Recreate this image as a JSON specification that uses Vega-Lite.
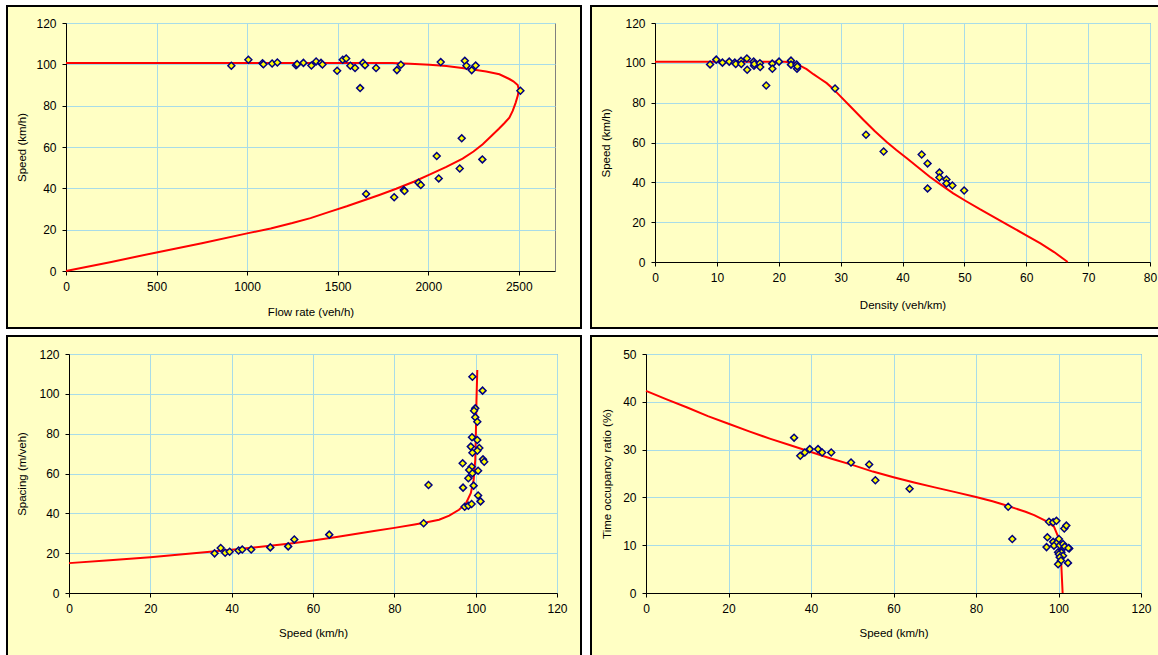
{
"$schema": "https://vega.github.io/schema/vega-lite/v6.json",
"background": "#FFFFC4",
"padding": 0,
"data": {"values": [{}]},
"datasets": {
"c1": [{"i":0,"x":0,"y":0},{"i":1,"x":250,"y":4.4},{"i":2,"x":500,"y":9.0},{"i":3,"x":750,"y":13.4},{"i":4,"x":1000,"y":18.2},{"i":5,"x":1130,"y":20.6},{"i":6,"x":1250,"y":23.2},{"i":7,"x":1350,"y":25.6},{"i":8,"x":1454,"y":28.6},{"i":9,"x":1550,"y":31.3},{"i":10,"x":1638,"y":34.0},{"i":11,"x":1730,"y":36.8},{"i":12,"x":1823,"y":39.8},{"i":13,"x":1920,"y":43.2},{"i":14,"x":2007,"y":46.6},{"i":15,"x":2100,"y":50.4},{"i":16,"x":2190,"y":54.4},{"i":17,"x":2250,"y":57.8},{"i":18,"x":2301,"y":61.3},{"i":19,"x":2350,"y":65.4},{"i":20,"x":2390,"y":68.8},{"i":21,"x":2420,"y":71.5},{"i":22,"x":2448,"y":74.2},{"i":23,"x":2467,"y":77.6},{"i":24,"x":2483,"y":81.5},{"i":25,"x":2495,"y":85},{"i":26,"x":2500,"y":88},{"i":27,"x":2494,"y":90},{"i":28,"x":2470,"y":91.8},{"i":29,"x":2448,"y":92.9},{"i":30,"x":2393,"y":95.2},{"i":31,"x":2320,"y":96.5},{"i":32,"x":2209,"y":98.0},{"i":33,"x":2100,"y":99.2},{"i":34,"x":2007,"y":99.8},{"i":35,"x":1900,"y":100.3},{"i":36,"x":1800,"y":100.6},{"i":37,"x":0,"y":100.7}],
"p1": [{"x":913,"y":99.3},{"x":1007,"y":102.2},{"x":1085,"y":100.5},{"x":1090,"y":100.0},{"x":1138,"y":100.4},{"x":1167,"y":100.9},{"x":1270,"y":99.6},{"x":1276,"y":100.1},{"x":1311,"y":100.7},{"x":1355,"y":99.4},{"x":1381,"y":101.4},{"x":1408,"y":100.7},{"x":1416,"y":99.9},{"x":1497,"y":96.9},{"x":1528,"y":102.2},{"x":1547,"y":102.8},{"x":1570,"y":99.3},{"x":1596,"y":98.2},{"x":1624,"y":88.5},{"x":1640,"y":100.7},{"x":1651,"y":99.6},{"x":1712,"y":98.2},{"x":1827,"y":97.2},{"x":1849,"y":99.8},{"x":2069,"y":101.1},{"x":2202,"y":101.7},{"x":2211,"y":99.3},{"x":2240,"y":97.2},{"x":2262,"y":99.4},{"x":2509,"y":87.2},{"x":2185,"y":64.2},{"x":2047,"y":55.6},{"x":2299,"y":54.0},{"x":2174,"y":49.6},{"x":2058,"y":44.8},{"x":1946,"y":42.7},{"x":1959,"y":41.6},{"x":1865,"y":39.2},{"x":1869,"y":38.7},{"x":1657,"y":37.3},{"x":1812,"y":35.7}],
"c2": [{"i":0,"x":0,"y":100.6},{"i":1,"x":21,"y":100.5},{"i":2,"x":22.5,"y":99.9},{"i":3,"x":23.5,"y":98.5},{"i":4,"x":24.5,"y":96.8},{"i":5,"x":25.6,"y":94.3},{"i":6,"x":26.7,"y":92},{"i":7,"x":27.75,"y":89.8},{"i":8,"x":28.8,"y":86.9},{"i":9,"x":29.9,"y":83.4},{"i":10,"x":31.5,"y":78.3},{"i":11,"x":33.7,"y":71.3},{"i":12,"x":35.5,"y":65.8},{"i":13,"x":37.4,"y":60.4},{"i":14,"x":39,"y":56.2},{"i":15,"x":40.7,"y":52.1},{"i":16,"x":42.5,"y":47.6},{"i":17,"x":44.4,"y":42.8},{"i":18,"x":46.3,"y":38.6},{"i":19,"x":48.2,"y":34.5},{"i":20,"x":50.3,"y":30.5},{"i":21,"x":52.5,"y":26.5},{"i":22,"x":55,"y":22.2},{"i":23,"x":57.5,"y":17.8},{"i":24,"x":60,"y":13.4},{"i":25,"x":62.3,"y":9.3},{"i":26,"x":64.5,"y":5},{"i":27,"x":66.7,"y":0}],
"p2": [{"x":8.9,"y":99.2},{"x":9.9,"y":101.6},{"x":10.9,"y":100.1},{"x":12.0,"y":100.6},{"x":12.9,"y":100.1},{"x":13.05,"y":99.4},{"x":13.9,"y":101.0},{"x":13.95,"y":99.4},{"x":14.85,"y":102.2},{"x":14.9,"y":96.5},{"x":15.95,"y":100.6},{"x":16.0,"y":98.5},{"x":16.05,"y":99.4},{"x":16.95,"y":99.8},{"x":17.0,"y":97.9},{"x":17.97,"y":88.6},{"x":18.95,"y":99.6},{"x":18.97,"y":97.0},{"x":20.05,"y":100.6},{"x":21.98,"y":101.1},{"x":21.98,"y":99.1},{"x":22.9,"y":99.1},{"x":22.95,"y":97.0},{"x":23.0,"y":98.2},{"x":29.1,"y":87.1},{"x":34.1,"y":63.9},{"x":36.95,"y":55.5},{"x":43.1,"y":53.95},{"x":44.05,"y":49.5},{"x":44.05,"y":36.95},{"x":45.97,"y":44.9},{"x":45.97,"y":42.4},{"x":47.1,"y":41.4},{"x":47.1,"y":39.4},{"x":48.06,"y":38.4},{"x":49.96,"y":35.9}],
"c3": [{"i":0,"x":0,"y":15},{"i":1,"x":10,"y":16.4},{"i":2,"x":20,"y":18.0},{"i":3,"x":30,"y":19.8},{"i":4,"x":40,"y":21.7},{"i":5,"x":50,"y":23.8},{"i":6,"x":55,"y":25.0},{"i":7,"x":60,"y":26.4},{"i":8,"x":65,"y":27.9},{"i":9,"x":70,"y":29.5},{"i":10,"x":75,"y":31.1},{"i":11,"x":80,"y":32.7},{"i":12,"x":85,"y":34.4},{"i":13,"x":88,"y":35.5},{"i":14,"x":91,"y":36.8},{"i":15,"x":93.5,"y":38.8},{"i":16,"x":95.9,"y":41.8},{"i":17,"x":97.6,"y":45},{"i":18,"x":98.8,"y":50.1},{"i":19,"x":99.5,"y":56.7},{"i":20,"x":99.9,"y":66.8},{"i":21,"x":100.05,"y":80.2},{"i":22,"x":100.2,"y":96.9},{"i":23,"x":100.4,"y":112}],
"p3": [{"x":35.8,"y":19.9},{"x":37.3,"y":22.6},{"x":38.4,"y":20.2},{"x":39.5,"y":20.7},{"x":41.7,"y":21.3},{"x":42.6,"y":21.8},{"x":44.8,"y":21.8},{"x":49.5,"y":22.9},{"x":53.9,"y":23.4},{"x":55.4,"y":26.9},{"x":64.0,"y":29.3},{"x":87.2,"y":35.0},{"x":88.4,"y":54.2},{"x":99.2,"y":108.6},{"x":101.7,"y":101.6},{"x":99.9,"y":92.7},{"x":99.6,"y":91.5},{"x":99.9,"y":88.2},{"x":100.4,"y":86.0},{"x":99.1,"y":78.2},{"x":100.4,"y":76.8},{"x":98.8,"y":73.5},{"x":100.9,"y":72.8},{"x":100.4,"y":71.4},{"x":99.2,"y":70.4},{"x":101.8,"y":67.1},{"x":102.1,"y":65.9},{"x":96.8,"y":65.1},{"x":99.0,"y":63.4},{"x":98.4,"y":61.8},{"x":100.6,"y":61.4},{"x":99.2,"y":60.1},{"x":98.2,"y":57.6},{"x":96.9,"y":52.9},{"x":99.5,"y":53.9},{"x":100.6,"y":49.0},{"x":101.2,"y":46.0},{"x":97.3,"y":43.3},{"x":98.2,"y":43.8},{"x":99.0,"y":44.7}],
"c4": [{"i":0,"x":0,"y":42.3},{"i":1,"x":5,"y":40.5},{"i":2,"x":10,"y":38.8},{"i":3,"x":15,"y":37.0},{"i":4,"x":20,"y":35.4},{"i":5,"x":25,"y":33.8},{"i":6,"x":30,"y":32.3},{"i":7,"x":35,"y":30.9},{"i":8,"x":40,"y":29.5},{"i":9,"x":45,"y":28.1},{"i":10,"x":50,"y":26.8},{"i":11,"x":55,"y":25.4},{"i":12,"x":60,"y":24.2},{"i":13,"x":65,"y":23.1},{"i":14,"x":70,"y":22.1},{"i":15,"x":75,"y":21.1},{"i":16,"x":80,"y":20.1},{"i":17,"x":84,"y":19.2},{"i":18,"x":87,"y":18.4},{"i":19,"x":89.5,"y":17.7},{"i":20,"x":92,"y":17.0},{"i":21,"x":94.1,"y":16.3},{"i":22,"x":96.9,"y":15.1},{"i":23,"x":98.9,"y":13.9},{"i":24,"x":99.9,"y":11.8},{"i":25,"x":100.4,"y":9.0},{"i":26,"x":100.7,"y":5.5},{"i":27,"x":101,"y":0}],
"p4": [{"x":35.9,"y":32.5},{"x":37.4,"y":28.7},{"x":38.5,"y":29.4},{"x":39.7,"y":30.1},{"x":41.7,"y":30.1},{"x":42.7,"y":29.4},{"x":44.9,"y":29.4},{"x":49.7,"y":27.3},{"x":54.1,"y":26.9},{"x":55.6,"y":23.6},{"x":63.9,"y":21.8},{"x":87.8,"y":18.05},{"x":88.8,"y":11.3},{"x":97.7,"y":14.9},{"x":98.7,"y":14.8},{"x":99.5,"y":15.1},{"x":101.4,"y":13.5},{"x":101.9,"y":14.1},{"x":97.3,"y":11.65},{"x":97.1,"y":9.6},{"x":98.7,"y":10.7},{"x":99.5,"y":10.4},{"x":98.9,"y":9.9},{"x":100.1,"y":11.3},{"x":100.3,"y":10.0},{"x":101.1,"y":10.25},{"x":101.5,"y":9.7},{"x":102.6,"y":9.3},{"x":102.4,"y":9.4},{"x":99.9,"y":8.5},{"x":100.7,"y":8.5},{"x":100.1,"y":8.1},{"x":101.1,"y":7.8},{"x":100.3,"y":7.5},{"x":100.6,"y":6.8},{"x":99.9,"y":6.0},{"x":102.3,"y":6.3}]
},
"spacing": 0,
"bounds": "full",
"vconcat": [
{"columns": 11, "spacing": 0, "bounds": "flush", "align": "each", "concat": [
{"width":6,"height":5,"mark":{"type":"point","size":0,"filled":true,"opacity":0},"view":{"fill":"#ffffff"}},
{"width":2,"height":5,"mark":{"type":"point","size":0,"filled":true,"opacity":0},"view":{"fill":"#ffffff"}},
{"width":58,"height":5,"mark":{"type":"point","size":0,"filled":true,"opacity":0},"view":{"fill":"#ffffff"}},
{"width":489,"height":5,"mark":{"type":"point","size":0,"filled":true,"opacity":0},"view":{"fill":"#ffffff"}},
{"width":25,"height":5,"mark":{"type":"point","size":0,"filled":true,"opacity":0},"view":{"fill":"#ffffff"}},
{"width":2,"height":5,"mark":{"type":"point","size":0,"filled":true,"opacity":0},"view":{"fill":"#ffffff"}},
{"width":8,"height":5,"mark":{"type":"point","size":0,"filled":true,"opacity":0},"view":{"fill":"#ffffff"}},
{"width":2,"height":5,"mark":{"type":"point","size":0,"filled":true,"opacity":0},"view":{"fill":"#ffffff"}},
{"width":63,"height":5,"mark":{"type":"point","size":0,"filled":true,"opacity":0},"view":{"fill":"#ffffff"}},
{"width":495,"height":5,"mark":{"type":"point","size":0,"filled":true,"opacity":0},"view":{"fill":"#ffffff"}},
{"width":8,"height":5,"mark":{"type":"point","size":0,"filled":true,"opacity":0},"view":{"fill":"#ffffff"}},

{"width":6,"height":2,"mark":{"type":"point","size":0,"filled":true,"opacity":0},"view":{"fill":"#ffffff"}},
{"width":2,"height":2,"mark":{"type":"point","size":0,"filled":true,"opacity":0},"view":{"fill":"#000000"}},
{"width":58,"height":2,"mark":{"type":"point","size":0,"filled":true,"opacity":0},"view":{"fill":"#000000"}},
{"width":489,"height":2,"mark":{"type":"point","size":0,"filled":true,"opacity":0},"view":{"fill":"#000000"}},
{"width":25,"height":2,"mark":{"type":"point","size":0,"filled":true,"opacity":0},"view":{"fill":"#000000"}},
{"width":2,"height":2,"mark":{"type":"point","size":0,"filled":true,"opacity":0},"view":{"fill":"#000000"}},
{"width":8,"height":2,"mark":{"type":"point","size":0,"filled":true,"opacity":0},"view":{"fill":"#ffffff"}},
{"width":2,"height":2,"mark":{"type":"point","size":0,"filled":true,"opacity":0},"view":{"fill":"#000000"}},
{"width":63,"height":2,"mark":{"type":"point","size":0,"filled":true,"opacity":0},"view":{"fill":"#000000"}},
{"width":495,"height":2,"mark":{"type":"point","size":0,"filled":true,"opacity":0},"view":{"fill":"#000000"}},
{"width":8,"height":2,"mark":{"type":"point","size":0,"filled":true,"opacity":0},"view":{"fill":"#000000"}},

{"width":6,"height":16,"mark":{"type":"point","size":0,"filled":true,"opacity":0},"view":{"fill":"#ffffff"}},
{"width":2,"height":16,"mark":{"type":"point","size":0,"filled":true,"opacity":0},"view":{"fill":"#000000"}},
{"width":58,"height":16,"mark":{"type":"point","size":0,"filled":true,"opacity":0}},
{"width":489,"height":16,"mark":{"type":"point","size":0,"filled":true,"opacity":0}},
{"width":25,"height":16,"mark":{"type":"point","size":0,"filled":true,"opacity":0}},
{"width":2,"height":16,"mark":{"type":"point","size":0,"filled":true,"opacity":0},"view":{"fill":"#000000"}},
{"width":8,"height":16,"mark":{"type":"point","size":0,"filled":true,"opacity":0},"view":{"fill":"#ffffff"}},
{"width":2,"height":16,"mark":{"type":"point","size":0,"filled":true,"opacity":0},"view":{"fill":"#000000"}},
{"width":63,"height":16,"mark":{"type":"point","size":0,"filled":true,"opacity":0}},
{"width":495,"height":16,"mark":{"type":"point","size":0,"filled":true,"opacity":0}},
{"width":8,"height":16,"mark":{"type":"point","size":0,"filled":true,"opacity":0}},

{"width":6,"height":248,"mark":{"type":"point","size":0,"filled":true,"opacity":0},"view":{"fill":"#ffffff"}},
{"width":2,"height":248,"mark":{"type":"point","size":0,"filled":true,"opacity":0},"view":{"fill":"#000000"}},
{"width":58,"height":248,"mark":{"type":"point","size":0,"filled":true,"opacity":0}},
{"width":489,"height":248,"view":{"stroke":"#808080"},"layer":[
 {"data":{"name":"c1"},"mark":{"type":"line","color":"#ff0000","strokeWidth":2},"encoding":{"x":{"field":"x","type":"quantitative","title":"Flow rate (veh/h)","scale":{"domain":[0,2700],"nice":false},"axis":{"values":[0,500,1000,1500,2000,2500],"tickCount":20,"format":"d","titlePadding":14}},"y":{"field":"y","type":"quantitative","title":"Speed (km/h)","scale":{"domain":[0,120],"nice":false},"axis":{"values":[0,20,40,60,80,100,120],"tickCount":20,"format":"d","titlePadding":8}},"order":{"field":"i","type":"quantitative"}}},
 {"data":{"name":"p1"},"mark":{"type":"point","shape":"diamond","filled":true,"fill":"#ffff00","stroke":"#000080","strokeWidth":1.5,"size":48,"opacity":1},"encoding":{"x":{"field":"x","type":"quantitative","title":"Flow rate (veh/h)"},"y":{"field":"y","type":"quantitative","title":"Speed (km/h)"}}}
]},
{"width":25,"height":248,"mark":{"type":"point","size":0,"filled":true,"opacity":0}},
{"width":2,"height":248,"mark":{"type":"point","size":0,"filled":true,"opacity":0},"view":{"fill":"#000000"}},
{"width":8,"height":248,"mark":{"type":"point","size":0,"filled":true,"opacity":0},"view":{"fill":"#ffffff"}},
{"width":2,"height":248,"mark":{"type":"point","size":0,"filled":true,"opacity":0},"view":{"fill":"#000000"}},
{"width":63,"height":248,"mark":{"type":"point","size":0,"filled":true,"opacity":0}},
{"width":495,"height":239,"view":{"stroke":"#808080"},"layer":[
 {"data":{"name":"c2"},"mark":{"type":"line","color":"#ff0000","strokeWidth":2},"encoding":{"x":{"field":"x","type":"quantitative","title":"Density (veh/km)","scale":{"domain":[0,80],"nice":false},"axis":{"values":[0,10,20,30,40,50,60,70,80],"tickCount":20,"format":"d","titlePadding":16}},"y":{"field":"y","type":"quantitative","title":"Speed (km/h)","scale":{"domain":[0,120],"nice":false},"axis":{"values":[0,20,40,60,80,100,120],"tickCount":20,"format":"d","titlePadding":13}},"order":{"field":"i","type":"quantitative"}}},
 {"data":{"name":"p2"},"mark":{"type":"point","shape":"diamond","filled":true,"fill":"#ffff00","stroke":"#000080","strokeWidth":1.5,"size":48,"opacity":1},"encoding":{"x":{"field":"x","type":"quantitative","title":"Density (veh/km)"},"y":{"field":"y","type":"quantitative","title":"Speed (km/h)"}}}
]},
{"width":8,"height":248,"mark":{"type":"point","size":0,"filled":true,"opacity":0}},

{"width":6,"height":56,"mark":{"type":"point","size":0,"filled":true,"opacity":0},"view":{"fill":"#ffffff"}},
{"width":2,"height":56,"mark":{"type":"point","size":0,"filled":true,"opacity":0},"view":{"fill":"#000000"}},
{"width":58,"height":56,"mark":{"type":"point","size":0,"filled":true,"opacity":0}},
{"width":489,"height":56,"mark":{"type":"point","size":0,"filled":true,"opacity":0}},
{"width":25,"height":56,"mark":{"type":"point","size":0,"filled":true,"opacity":0}},
{"width":2,"height":56,"mark":{"type":"point","size":0,"filled":true,"opacity":0},"view":{"fill":"#000000"}},
{"width":8,"height":56,"mark":{"type":"point","size":0,"filled":true,"opacity":0},"view":{"fill":"#ffffff"}},
{"width":2,"height":56,"mark":{"type":"point","size":0,"filled":true,"opacity":0},"view":{"fill":"#000000"}},
{"width":63,"height":56,"mark":{"type":"point","size":0,"filled":true,"opacity":0}},
{"width":495,"height":56,"mark":{"type":"point","size":0,"filled":true,"opacity":0}},
{"width":8,"height":56,"mark":{"type":"point","size":0,"filled":true,"opacity":0}},

{"width":6,"height":2,"mark":{"type":"point","size":0,"filled":true,"opacity":0},"view":{"fill":"#ffffff"}},
{"width":2,"height":2,"mark":{"type":"point","size":0,"filled":true,"opacity":0},"view":{"fill":"#000000"}},
{"width":58,"height":2,"mark":{"type":"point","size":0,"filled":true,"opacity":0},"view":{"fill":"#000000"}},
{"width":489,"height":2,"mark":{"type":"point","size":0,"filled":true,"opacity":0},"view":{"fill":"#000000"}},
{"width":25,"height":2,"mark":{"type":"point","size":0,"filled":true,"opacity":0},"view":{"fill":"#000000"}},
{"width":2,"height":2,"mark":{"type":"point","size":0,"filled":true,"opacity":0},"view":{"fill":"#000000"}},
{"width":8,"height":2,"mark":{"type":"point","size":0,"filled":true,"opacity":0},"view":{"fill":"#ffffff"}},
{"width":2,"height":2,"mark":{"type":"point","size":0,"filled":true,"opacity":0},"view":{"fill":"#000000"}},
{"width":63,"height":2,"mark":{"type":"point","size":0,"filled":true,"opacity":0},"view":{"fill":"#000000"}},
{"width":495,"height":2,"mark":{"type":"point","size":0,"filled":true,"opacity":0},"view":{"fill":"#000000"}},
{"width":8,"height":2,"mark":{"type":"point","size":0,"filled":true,"opacity":0},"view":{"fill":"#000000"}}
]},
{"columns": 11, "spacing": 0, "bounds": "flush", "align": "each", "concat": [
{"width":6,"height":6,"mark":{"type":"point","size":0,"filled":true,"opacity":0},"view":{"fill":"#ffffff"}},
{"width":2,"height":6,"mark":{"type":"point","size":0,"filled":true,"opacity":0},"view":{"fill":"#ffffff"}},
{"width":61,"height":6,"mark":{"type":"point","size":0,"filled":true,"opacity":0},"view":{"fill":"#ffffff"}},
{"width":488,"height":6,"mark":{"type":"point","size":0,"filled":true,"opacity":0},"view":{"fill":"#ffffff"}},
{"width":23,"height":6,"mark":{"type":"point","size":0,"filled":true,"opacity":0},"view":{"fill":"#ffffff"}},
{"width":2,"height":6,"mark":{"type":"point","size":0,"filled":true,"opacity":0},"view":{"fill":"#ffffff"}},
{"width":8,"height":6,"mark":{"type":"point","size":0,"filled":true,"opacity":0},"view":{"fill":"#ffffff"}},
{"width":2,"height":6,"mark":{"type":"point","size":0,"filled":true,"opacity":0},"view":{"fill":"#ffffff"}},
{"width":54,"height":6,"mark":{"type":"point","size":0,"filled":true,"opacity":0},"view":{"fill":"#ffffff"}},
{"width":495,"height":6,"mark":{"type":"point","size":0,"filled":true,"opacity":0},"view":{"fill":"#ffffff"}},
{"width":17,"height":6,"mark":{"type":"point","size":0,"filled":true,"opacity":0},"view":{"fill":"#ffffff"}},

{"width":6,"height":2,"mark":{"type":"point","size":0,"filled":true,"opacity":0},"view":{"fill":"#ffffff"}},
{"width":2,"height":2,"mark":{"type":"point","size":0,"filled":true,"opacity":0},"view":{"fill":"#000000"}},
{"width":61,"height":2,"mark":{"type":"point","size":0,"filled":true,"opacity":0},"view":{"fill":"#000000"}},
{"width":488,"height":2,"mark":{"type":"point","size":0,"filled":true,"opacity":0},"view":{"fill":"#000000"}},
{"width":23,"height":2,"mark":{"type":"point","size":0,"filled":true,"opacity":0},"view":{"fill":"#000000"}},
{"width":2,"height":2,"mark":{"type":"point","size":0,"filled":true,"opacity":0},"view":{"fill":"#000000"}},
{"width":8,"height":2,"mark":{"type":"point","size":0,"filled":true,"opacity":0},"view":{"fill":"#ffffff"}},
{"width":2,"height":2,"mark":{"type":"point","size":0,"filled":true,"opacity":0},"view":{"fill":"#000000"}},
{"width":54,"height":2,"mark":{"type":"point","size":0,"filled":true,"opacity":0},"view":{"fill":"#000000"}},
{"width":495,"height":2,"mark":{"type":"point","size":0,"filled":true,"opacity":0},"view":{"fill":"#000000"}},
{"width":17,"height":2,"mark":{"type":"point","size":0,"filled":true,"opacity":0},"view":{"fill":"#000000"}},

{"width":6,"height":17,"mark":{"type":"point","size":0,"filled":true,"opacity":0},"view":{"fill":"#ffffff"}},
{"width":2,"height":17,"mark":{"type":"point","size":0,"filled":true,"opacity":0},"view":{"fill":"#000000"}},
{"width":61,"height":17,"mark":{"type":"point","size":0,"filled":true,"opacity":0}},
{"width":488,"height":17,"mark":{"type":"point","size":0,"filled":true,"opacity":0}},
{"width":23,"height":17,"mark":{"type":"point","size":0,"filled":true,"opacity":0}},
{"width":2,"height":17,"mark":{"type":"point","size":0,"filled":true,"opacity":0},"view":{"fill":"#000000"}},
{"width":8,"height":17,"mark":{"type":"point","size":0,"filled":true,"opacity":0},"view":{"fill":"#ffffff"}},
{"width":2,"height":17,"mark":{"type":"point","size":0,"filled":true,"opacity":0},"view":{"fill":"#000000"}},
{"width":54,"height":17,"mark":{"type":"point","size":0,"filled":true,"opacity":0}},
{"width":495,"height":17,"mark":{"type":"point","size":0,"filled":true,"opacity":0}},
{"width":17,"height":17,"mark":{"type":"point","size":0,"filled":true,"opacity":0}},

{"width":6,"height":239,"mark":{"type":"point","size":0,"filled":true,"opacity":0},"view":{"fill":"#ffffff"}},
{"width":2,"height":239,"mark":{"type":"point","size":0,"filled":true,"opacity":0},"view":{"fill":"#000000"}},
{"width":61,"height":239,"mark":{"type":"point","size":0,"filled":true,"opacity":0}},
{"width":488,"height":239,"view":{"stroke":"#808080"},"layer":[
 {"data":{"name":"c3"},"mark":{"type":"line","color":"#ff0000","strokeWidth":2},"encoding":{"x":{"field":"x","type":"quantitative","title":"Speed (km/h)","scale":{"domain":[0,120],"nice":false},"axis":{"values":[0,20,40,60,80,100,120],"tickCount":20,"format":"d","titlePadding":13}},"y":{"field":"y","type":"quantitative","title":"Spacing (m/veh)","scale":{"domain":[0,120],"nice":false},"axis":{"values":[0,20,40,60,80,100,120],"tickCount":20,"format":"d","titlePadding":11}},"order":{"field":"i","type":"quantitative"}}},
 {"data":{"name":"p3"},"mark":{"type":"point","shape":"diamond","filled":true,"fill":"#ffff00","stroke":"#000080","strokeWidth":1.5,"size":48,"opacity":1},"encoding":{"x":{"field":"x","type":"quantitative","title":"Speed (km/h)"},"y":{"field":"y","type":"quantitative","title":"Spacing (m/veh)"}}}
]},
{"width":23,"height":239,"mark":{"type":"point","size":0,"filled":true,"opacity":0}},
{"width":2,"height":239,"mark":{"type":"point","size":0,"filled":true,"opacity":0},"view":{"fill":"#000000"}},
{"width":8,"height":239,"mark":{"type":"point","size":0,"filled":true,"opacity":0},"view":{"fill":"#ffffff"}},
{"width":2,"height":239,"mark":{"type":"point","size":0,"filled":true,"opacity":0},"view":{"fill":"#000000"}},
{"width":54,"height":239,"mark":{"type":"point","size":0,"filled":true,"opacity":0}},
{"width":495,"height":239,"view":{"stroke":"#808080"},"layer":[
 {"data":{"name":"c4"},"mark":{"type":"line","color":"#ff0000","strokeWidth":2},"encoding":{"x":{"field":"x","type":"quantitative","title":"Speed (km/h)","scale":{"domain":[0,120],"nice":false},"axis":{"values":[0,20,40,60,80,100,120],"tickCount":20,"format":"d","titlePadding":13}},"y":{"field":"y","type":"quantitative","title":"Time occupancy ratio (%)","scale":{"domain":[0,50],"nice":false},"axis":{"values":[0,10,20,30,40,50],"tickCount":20,"format":"d","titlePadding":10.5}},"order":{"field":"i","type":"quantitative"}}},
 {"data":{"name":"p4"},"mark":{"type":"point","shape":"diamond","filled":true,"fill":"#ffff00","stroke":"#000080","strokeWidth":1.5,"size":48,"opacity":1},"encoding":{"x":{"field":"x","type":"quantitative","title":"Speed (km/h)"},"y":{"field":"y","type":"quantitative","title":"Time occupancy ratio (%)"}}}
]},
{"width":17,"height":239,"mark":{"type":"point","size":0,"filled":true,"opacity":0}},

{"width":6,"height":62,"mark":{"type":"point","size":0,"filled":true,"opacity":0},"view":{"fill":"#ffffff"}},
{"width":2,"height":62,"mark":{"type":"point","size":0,"filled":true,"opacity":0},"view":{"fill":"#000000"}},
{"width":61,"height":62,"mark":{"type":"point","size":0,"filled":true,"opacity":0}},
{"width":488,"height":62,"mark":{"type":"point","size":0,"filled":true,"opacity":0}},
{"width":23,"height":62,"mark":{"type":"point","size":0,"filled":true,"opacity":0}},
{"width":2,"height":62,"mark":{"type":"point","size":0,"filled":true,"opacity":0},"view":{"fill":"#000000"}},
{"width":8,"height":62,"mark":{"type":"point","size":0,"filled":true,"opacity":0},"view":{"fill":"#ffffff"}},
{"width":2,"height":62,"mark":{"type":"point","size":0,"filled":true,"opacity":0},"view":{"fill":"#000000"}},
{"width":54,"height":62,"mark":{"type":"point","size":0,"filled":true,"opacity":0}},
{"width":495,"height":62,"mark":{"type":"point","size":0,"filled":true,"opacity":0}},
{"width":17,"height":62,"mark":{"type":"point","size":0,"filled":true,"opacity":0}}
]}
],
"config": {
 "view": {"stroke": null, "fill": null},
 "font": "Liberation Sans",
 "axis": {
  "domainColor": "#000000", "domainWidth": 1,
  "tickColor": "#000000", "tickSize": 4, "tickWidth": 1,
  "labelColor": "#000000", "labelFont": "Liberation Sans", "labelFontSize": 12,
  "labelFlush": false, "labelOverlap": false, "labelPadding": 6,
  "titleColor": "#000000", "titleFont": "Liberation Sans", "titleFontSize": 11.5, "titleFontWeight": "normal",
  "gridColor": "#A8DCE8", "gridWidth": 1, "gridOpacity": 1
 }
}
}
